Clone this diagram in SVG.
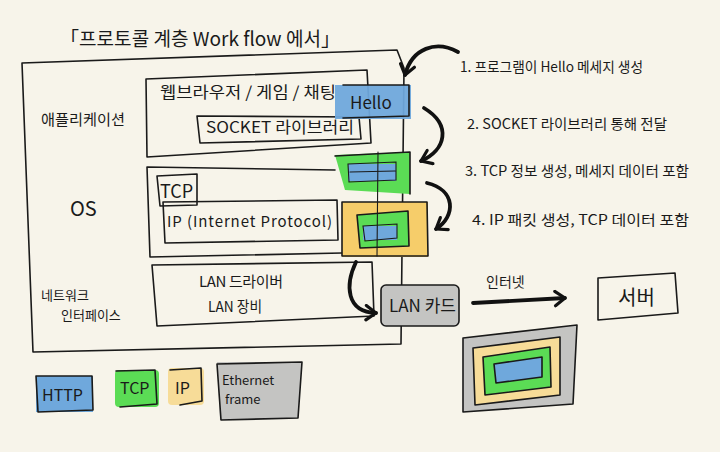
<svg xmlns="http://www.w3.org/2000/svg" width="720" height="452" viewBox="0 0 720 452">
<style>
.ln{fill:none;stroke:#1a1a1a;stroke-width:1.6;stroke-linecap:round;stroke-linejoin:round}
.th{fill:none;stroke:#1a1a1a;stroke-width:1.1;stroke-linecap:round}
.arr{fill:none;stroke:#111;stroke-width:3.8;stroke-linecap:round;stroke-linejoin:round}
.t{font-family:"Noto Sans CJK KR","Liberation Sans",sans-serif;fill:#1a1a1a}
.blue{fill:#6fa8dc}
.green{fill:#5bdc55}
.yellow{fill:#f6cd6a}
.pale{fill:#f7dc98}
.gray{fill:#c4c4c2}
</style>
<defs>
<marker id="v" viewBox="0 0 20 20" refX="15" refY="10" markerWidth="18" markerHeight="18" orient="auto" markerUnits="userSpaceOnUse">
<path d="M4,2 L15,10 L4,18" fill="none" stroke="#111" stroke-width="3.5" stroke-linecap="round" stroke-linejoin="round"/>
</marker>
</defs>
<rect width="720" height="452" fill="#f7f4ea"/>

<g id="title">
<text class="t" x="60" y="46" font-size="19" textLength="280" lengthAdjust="spacingAndGlyphs">「프로토콜 계층 Work flow 에서」</text>
</g>

<g id="outer">
<path class="ln" d="M22,63 L397,50 L404,68 L401,344 M22,63 L33,352 L401,344"/>
<text class="t" x="41" y="125" font-size="15" textLength="84" lengthAdjust="spacingAndGlyphs">애플리케이션</text>
<text class="t" x="70" y="216" font-size="20">OS</text>
<text class="t" x="41" y="300" font-size="13">네트워크</text>
<text class="t" x="61" y="320" font-size="13">인터페이스</text>
</g>

<g id="app">
<path class="ln" d="M146,79 L367,70 L371,143 L147,157 Z"/>
</g>

<g id="socket">
<path class="ln" d="M197,116 L359,117 L361,139 L200,143 Z"/>
<text class="t" x="206" y="133" font-size="16" textLength="148" lengthAdjust="spacingAndGlyphs">SOCKET 라이브러리</text>
</g>

<g id="hello">
<rect class="blue" x="335" y="85" width="76" height="34" opacity="0.95"/>
<path class="ln" d="M343,85 L409,85 L409,116 L343,118"/>
<text class="t" x="350" y="109" font-size="17">Hello</text>
</g>

<g id="app-label">
<text class="t" x="160" y="98" font-size="16" textLength="176" lengthAdjust="spacingAndGlyphs">웹브라우저  /  게임 /  채팅</text>
</g>

<g id="os">
<path class="ln" d="M335,170 L147,167 L150,257 L342,253"/>
</g>

<g id="tcp-box">
<path class="ln" d="M157,176 L197,174 L197,205 L160,206 Z"/>
<text class="t" x="160" y="198" font-size="18">TCP</text>
</g>

<g id="ip-box">
<path class="ln" d="M163,202 L337,200 L338,240 L165,243 Z"/>
<text class="t" x="167" y="227" font-size="15" textLength="165">IP (Internet Protocol)</text>
</g>

<g id="tcp-segment">
<path class="green" d="M335,155 L410,152 L410,194 L345,190 Z"/>
<path class="ln" d="M335,156 L410,152 L410,194"/>
<rect class="blue" x="348" y="164" width="48" height="17"/>
<path class="th" d="M348,164 L396,162 L396,180 L349,182 Z M350,172 L395,171"/>
</g>

<g id="ip-packet">
<rect class="yellow" x="342" y="202" width="86" height="55"/>
<path class="ln" d="M342,202 L427,202 L428,256 L342,256 Z"/>
<path class="green" d="M357,215 L408,211 L409,246 L360,248 Z"/>
<path class="ln" d="M357,215 L408,211 L409,246 L360,248 Z"/>
<rect class="blue" x="363" y="226" width="34" height="14"/>
<path class="th" d="M363,226 L397,224 L397,238 L365,241 Z"/>
</g>

<g id="nic">
<path class="ln" d="M152,265 L372,262 L374,316 L157,326 Z"/>
<text class="t" x="199" y="287" font-size="15" textLength="84">LAN 드라이버</text>
<text class="t" x="208" y="312" font-size="15" textLength="54" lengthAdjust="spacingAndGlyphs">LAN 장비</text>
</g>

<g id="lan-card">
<rect class="gray" x="381" y="285" width="78" height="41" rx="5"/>
<rect class="ln" x="381" y="285" width="78" height="41" rx="5"/>
<text class="t" x="389" y="312" font-size="17">LAN 카드</text>
</g>

<g id="server">
<path class="ln" d="M598,278 L675,273 L678,313 L598,320 Z"/>
<text class="t" x="618" y="305" font-size="20">서버</text>
</g>

<g id="frame">
<path class="gray" d="M463,338 L577,325 L573,404 L463,412 Z"/>
<path class="ln" d="M463,338 L577,325 L573,404 L463,412 Z"/>
<path class="pale" d="M473,348 L560,337 L560,395 L475,405 Z"/>
<path class="ln" d="M473,348 L560,337 L560,395 L475,405 Z"/>
<path class="green" d="M483,357 L550,347 L551,387 L485,395 Z"/>
<path class="ln" d="M483,357 L550,347 L551,387 L485,395 Z"/>
<path class="blue" d="M494,364 L542,357 L542,377 L496,383 Z"/>
<path class="ln" d="M494,364 L542,357 L542,377 L496,383 Z"/>
</g>

<g id="legend">
<g id="lg-http">
<rect class="blue" x="36" y="376" width="57" height="36"/>
<path class="ln" d="M36,376 L92,376 L93,410 L38,412 Z"/>
<text class="t" x="42" y="401" font-size="16">HTTP</text>
</g>
<g id="lg-tcp">
<rect class="green" x="115" y="370" width="44" height="37" rx="4"/>
<path class="ln" d="M116,371 L155,370 L157,404 L120,407"/>
<text class="t" x="120" y="394" font-size="16">TCP</text>
</g>
<g id="lg-ip">
<rect class="pale" x="168" y="368" width="36" height="37" rx="4"/>
<path class="ln" d="M170,370 L201,368 L202,401 L180,405"/>
<text class="t" x="175" y="394" font-size="16">IP</text>
</g>
<g id="lg-eth">
<path class="gray" d="M217,362 L302,362 L298,418 L220,420 Z"/>
<path class="ln" d="M217,364 L302,362 L298,418 L221,420 Z"/>
<text class="t" x="222" y="385" font-size="13">Ethernet</text>
<text class="t" x="225" y="404" font-size="13">frame</text>
</g>
</g>

<g id="steps">
<text class="t" x="460" y="72" font-size="14" textLength="183" lengthAdjust="spacingAndGlyphs">1. 프로그램이 Hello 메세지 생성</text>
<text class="t" x="467" y="129" font-size="14" textLength="200" lengthAdjust="spacingAndGlyphs">2. SOCKET 라이브러리 통해 전달</text>
<text class="t" x="465" y="176" font-size="14" textLength="224" lengthAdjust="spacingAndGlyphs">3. TCP 정보 생성, 메세지 데이터 포함</text>
<text class="t" x="472" y="225" font-size="14" textLength="217" lengthAdjust="spacingAndGlyphs">4. IP 패킷 생성, TCP 데이터 포함</text>
<text class="t" x="486" y="287" font-size="14">인터넷</text>
</g>

<g id="connectors">
<path class="th" d="M378,152 L377,256"/>
<path class="arr" d="M458,52 C436,40 412,48 405,75" marker-end="url(#v)"/>
<path class="arr" d="M424,108 C452,125 446,150 421,161" marker-end="url(#v)"/>
<path class="arr" d="M427,183 C456,190 456,216 436,229" marker-end="url(#v)"/>
<path class="arr" d="M356,262 C345,285 346,312 376,313" marker-end="url(#v)"/>
<path class="arr" d="M473,303 L565,298" stroke-width="4.5" marker-end="url(#v)"/>
</g>
</svg>
